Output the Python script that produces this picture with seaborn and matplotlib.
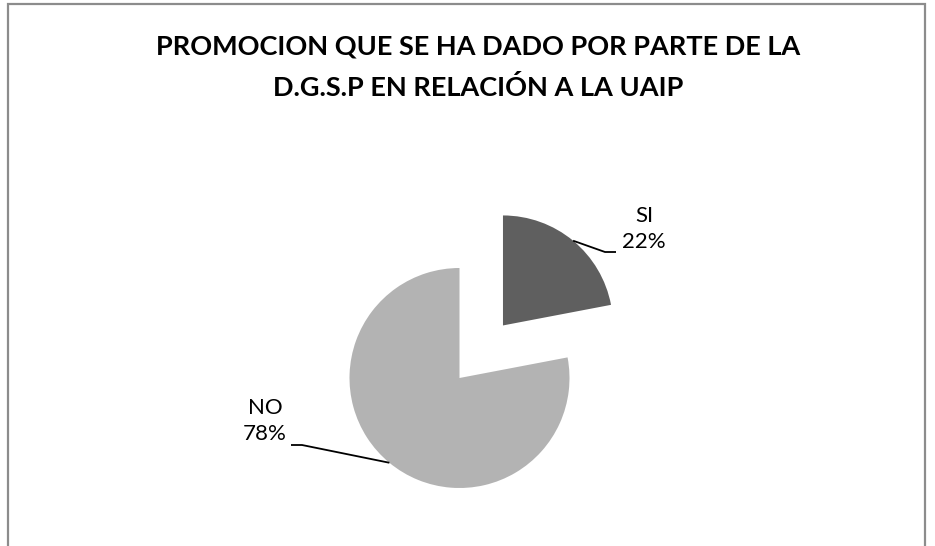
import numpy as np
import matplotlib
matplotlib.use("Agg")
import matplotlib.pyplot as plt
import seaborn as sns
from matplotlib.patches import Rectangle

labels = ["SI", "NO"]
values = [22, 78]
colors = ["#5f5f5f", "#b3b3b3"]
title_lines = ["PROMOCION QUE SE HA DADO POR PARTE DE LA", "D.G.S.P EN RELACIÓN A LA UAIP"]

sns.set_theme(style="white")
plt.rcParams['font.family'] = ['Lato', 'DejaVu Sans']

W, H = 935, 546
fig = plt.figure(figsize=(W / 100, H / 100), dpi=100)
ax = fig.add_axes([0, 0, 1, 1])
ax.axis("off")

# pixel layout
cx, cy, R = 459.5, 378.0, 110.0
def px(x, y):
    return ((x - cx) / R, ((H - y) - (H - cy)) / R)

x0, _ = px(0, 0)
x1, _ = px(W, 0)
_, y0 = px(0, H)
_, y1 = px(0, 0)

explode = [0.62, 0.0]
wedges, _ = ax.pie(values, colors=colors, startangle=90, counterclock=False,
                   explode=explode, radius=1.0, center=(0, 0), frame=True,
                   wedgeprops=dict(linewidth=0))
ax.set_xlim(x0, x1)
ax.set_ylim(y0, y1)
ax.set_aspect("auto")
ax.axis("off")

# leader lines and labels
total = sum(values)
start = 90.0
elbows = {"SI": [(605, 252), (616, 252)], "NO": [(302, 445), (291, 445)]}
text_pos = {"SI": (644, 229), "NO": (265, 421)}
for lab, v, ex in zip(labels, values, explode):
    ang = start - v / total * 180.0
    start -= v / total * 360.0
    a = np.deg2rad(ang)
    ox, oy = ex * np.cos(a), ex * np.sin(a)
    p0 = (ox + np.cos(a), oy + np.sin(a))
    pts = [p0] + [px(*e) for e in elbows[lab]]
    ax.plot([p[0] for p in pts], [p[1] for p in pts], color="black", lw=1.3,
            solid_capstyle="butt")
    tx, ty = px(*text_pos[lab])
    ax.text(tx, ty, f"{lab}\n{v}%", ha="center", va="center", fontsize=16,
            color="black", linespacing=1.4)

# title
for i, line in enumerate(title_lines):
    tx, ty = px(478, 47 + 40 * i)
    ax.text(tx, ty, line, ha="center", va="center", fontsize=19.5,
            fontweight="bold", color="black")

# frame
fig.patches.append(Rectangle((8 / W, -0.1), (925 - 8) / W, (H - 4) / H + 0.1,
                             transform=fig.transFigure, fill=False,
                             edgecolor="#8c8c8c", linewidth=1.6, clip_on=False))

fig.savefig("out.png", dpi=100, facecolor="white")
